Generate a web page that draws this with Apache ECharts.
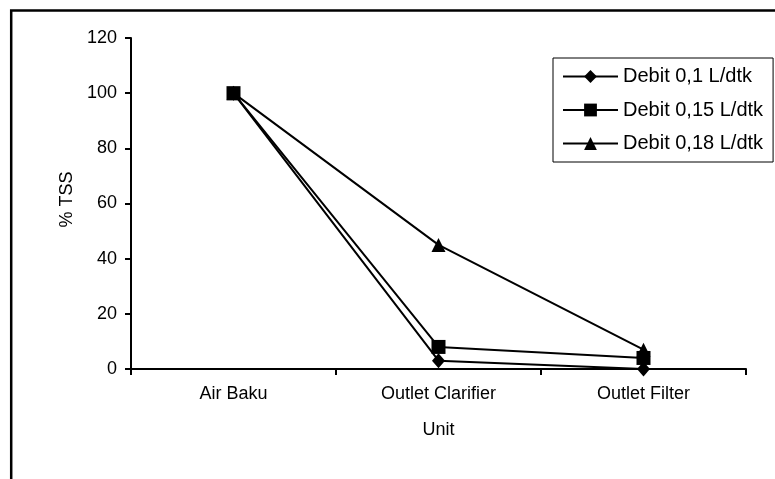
<!DOCTYPE html>
<html>
<head>
<meta charset="utf-8">
<script src="https://cdn.jsdelivr.net/npm/echarts@6/dist/echarts.min.js"></script>
<style>
html,body{margin:0;padding:0;background:#fff;}
#chart{width:775px;height:479px;}
</style>
</head>
<body>
<div id="chart"></div>
<script>
var categories = ['Air Baku', 'Outlet Clarifier', 'Outlet Filter'];
var seriesNames = ['Debit 0,1 L/dtk', 'Debit 0,15 L/dtk', 'Debit 0,18 L/dtk'];
var debit01 = [100, 3, 0];
var debit015 = [100, 8, 4];
var debit018 = [100, 45, 7];
var yTicks = [0, 20, 40, 60, 80, 100, 120];

var font = 'Liberation Sans, Arial, sans-serif';
var chart = echarts.init(document.getElementById('chart'), null, {renderer: 'canvas'});

function mkSeries(name, data, symbol, size) {
  return {
    name: name,
    type: 'line',
    data: data,
    symbol: symbol,
    symbolSize: size,
    showAllSymbol: true,
    lineStyle: {color: '#000', width: 2},
    itemStyle: {color: '#000', borderColor: '#000', borderWidth: 0},
    emphasis: {disabled: true},
    animation: false,
    z: 3
  };
}

chart.setOption({
  animation: false,
  backgroundColor: '#fff',
  graphic: [{
    type: 'rect',
    shape: {x: 11.2, y: 10.6, width: 1000, height: 1000},
    style: {fill: 'none', stroke: '#000', lineWidth: 2.5},
    silent: true
  }],
  grid: {left: 131, right: 29, top: 38, bottom: 110},
  legend: {
    orient: 'vertical',
    left: 553,
    top: 58,
    padding: [8, 10, 8, 9],
    itemGap: 12.5,
    itemWidth: 55,
    itemHeight: 16,
    borderColor: '#000',
    borderWidth: 1,
    backgroundColor: '#fff',
    textStyle: {fontFamily: font, fontSize: 20, color: '#000', lineHeight: 21, padding: [0, 0, 0, 0]},
    data: seriesNames
  },
  xAxis: {
    type: 'category',
    data: categories,
    boundaryGap: true,
    name: 'Unit',
    nameLocation: 'middle',
    nameGap: 52,
    nameTextStyle: {fontFamily: font, fontSize: 18, color: '#000'},
    axisLine: {lineStyle: {color: '#000', width: 2}},
    axisTick: {show: true, alignWithLabel: false, length: 6, lineStyle: {color: '#000', width: 2}},
    axisLabel: {fontFamily: font, fontSize: 18, color: '#000', margin: 16},
    splitLine: {show: false}
  },
  yAxis: {
    type: 'value',
    min: yTicks[0],
    max: yTicks[yTicks.length - 1],
    interval: 20,
    name: '% TSS',
    nameLocation: 'middle',
    nameGap: 51,
    nameRotate: 90,
    nameTextStyle: {fontFamily: font, fontSize: 18, color: '#000', padding: [0, 0, 0, 8]},
    axisLine: {show: true, lineStyle: {color: '#000', width: 2}},
    axisTick: {show: true, length: 6, lineStyle: {color: '#000', width: 2}},
    axisLabel: {fontFamily: font, fontSize: 18, color: '#000', margin: 14},
    splitLine: {show: false}
  },
  series: [
    mkSeries(seriesNames[0], debit01, 'diamond', [13, 15]),
    mkSeries(seriesNames[1], debit015, 'rect', 14),
    mkSeries(seriesNames[2], debit018, 'triangle', [14, 14])
  ]
});
</script>
</body>
</html>
